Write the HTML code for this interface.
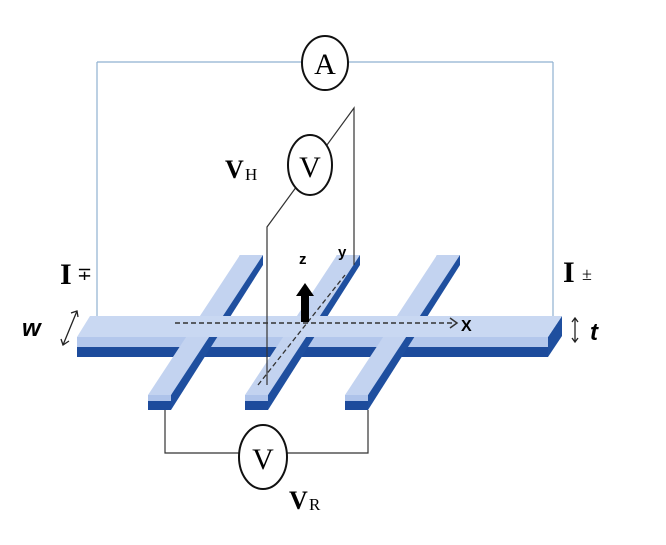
<!DOCTYPE html>
<html><head><meta charset="utf-8"><style>
html,body{margin:0;padding:0;background:#fff;}
svg{display:block;}
text{font-family:"Liberation Serif",serif;}
</style></head><body>
<svg width="666" height="545" viewBox="0 0 666 545" xmlns="http://www.w3.org/2000/svg">
<defs>
<clipPath id="back"><rect x="0" y="0" width="666" height="317"/></clipPath>
<clipPath id="front"><rect x="0" y="337" width="666" height="200"/></clipPath>
<g id="cb">
 <polygon points="92,255 115,255 115,265 23,410 23,395" fill="#1f4f9f"/>
 <polygon points="92,255 115,255 23,395 0,395" fill="#c3d3f0"/>
 <rect x="0" y="395" width="23" height="6" fill="#aec3ea"/>
 <rect x="0" y="401" width="23" height="9" fill="#1d4b9c"/>
</g>
</defs>
<!-- A loop -->
<g stroke="#8fb0d0" stroke-width="1.2" fill="none">
<line x1="97" y1="62" x2="553" y2="62"/>
<line x1="97" y1="62" x2="97" y2="325"/>
<line x1="553" y1="62" x2="553" y2="325"/>
</g>
<ellipse cx="325" cy="63" rx="23" ry="27" fill="#fff" stroke="#111" stroke-width="2"/>
<text x="325" y="74" font-size="30" text-anchor="middle">A</text>
<!-- back parts of crossbars -->
<g clip-path="url(#back)">
<use href="#cb" x="148" y="0"/><use href="#cb" x="245" y="0"/><use href="#cb" x="345" y="0"/>
</g>
<!-- main bar -->
<polygon points="562,316 562,336 548,357 548,337" fill="#1f4f9f"/>
<polygon points="90,316 562,316 548,337 77,337" fill="#c9d8f2"/>
<rect x="77" y="337" width="471" height="10" fill="#b3c7ec"/>
<rect x="77" y="347" width="471" height="10" fill="#1d4b9c"/>
<!-- front parts -->
<g clip-path="url(#front)">
<use href="#cb" x="148" y="0"/><use href="#cb" x="245" y="0"/><use href="#cb" x="345" y="0"/>
</g>
<!-- wires VH -->
<g stroke="#333" stroke-width="1.2" fill="none">
<polyline points="267,385 267,227 354,108 354,265"/>
<polyline points="165,410 165,453 368,453 368,410"/>
</g>
<ellipse cx="310" cy="165" rx="22" ry="30" fill="#fff" stroke="#111" stroke-width="2"/>
<text x="310" y="177" font-size="30" text-anchor="middle">V</text>
<ellipse cx="263" cy="457" rx="24" ry="32" fill="#fff" stroke="#111" stroke-width="2"/>
<text x="263" y="469" font-size="30" text-anchor="middle">V</text>
<!-- axes -->
<line x1="175" y1="323" x2="455" y2="323" stroke="#333" stroke-width="1.5" stroke-dasharray="5,3"/>
<polyline points="450,318 457,323 450,328" stroke="#333" stroke-width="1.5" fill="none"/>
<line x1="258" y1="385" x2="345" y2="275" stroke="#333" stroke-width="1.3" stroke-dasharray="5,3"/>
<polygon points="301,322 309,322 309,296 314,296 305,283 296,296 301,296" fill="#000"/>
<text x="461" y="331" font-size="16" font-weight="bold" font-family="Liberation Sans, sans-serif" style="font-family:'Liberation Sans',sans-serif">X</text>
<text x="299" y="264" font-size="15" font-weight="bold" style="font-family:'Liberation Sans',sans-serif">z</text>
<text x="338" y="257" font-size="15" font-weight="bold" style="font-family:'Liberation Sans',sans-serif">y</text>
<!-- labels -->
<text x="60" y="284" font-size="30" font-weight="bold">I</text>
<text x="77" y="280" font-size="18">∓</text>
<text x="563" y="282" font-size="30" font-weight="bold">I</text>
<text x="582" y="280" font-size="18">±</text>
<text x="22" y="336" font-size="24" font-weight="bold" font-style="italic" style="font-family:'Liberation Sans',sans-serif">w</text>
<g stroke="#222" stroke-width="1.3" fill="none">
<line x1="63" y1="345" x2="77" y2="311"/>
<polyline points="71,313 77,311 78,317"/>
<polyline points="61,339 63,345 69,341"/>
<line x1="575" y1="318" x2="575" y2="342"/>
<polyline points="572,322 575,318 578,322"/>
<polyline points="572,338 575,342 578,338"/>
</g>
<text x="590" y="340" font-size="24" font-weight="bold" font-style="italic" style="font-family:'Liberation Sans',sans-serif">t</text>
<text x="225" y="178" font-size="26" font-weight="bold">V</text>
<text x="245" y="180" font-size="17">H</text>
<text x="289" y="509" font-size="26" font-weight="bold">V</text>
<text x="309" y="510" font-size="17">R</text>
</svg>
</body></html>
